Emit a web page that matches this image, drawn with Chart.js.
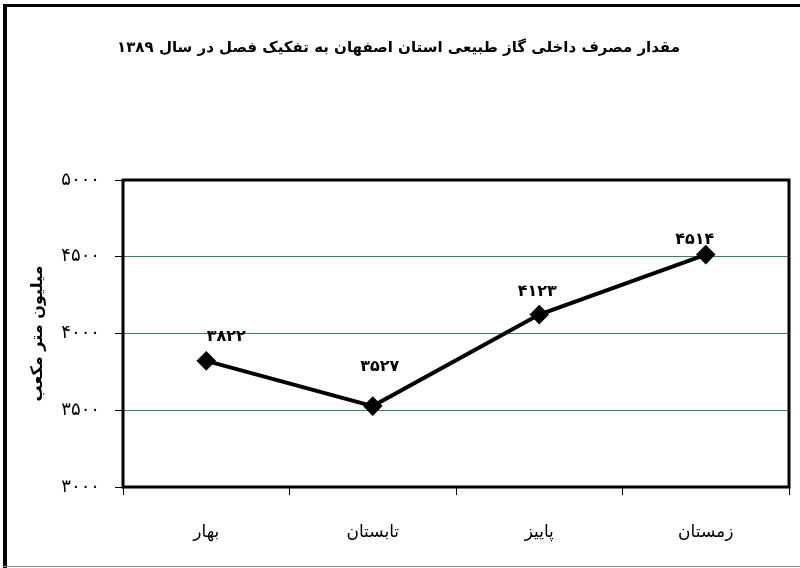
<!DOCTYPE html>
<html>
<head>
<meta charset="utf-8">
<script src="https://cdn.jsdelivr.net/npm/chart.js@4.4.0/dist/chart.umd.min.js"></script>
<style>
  html, body { margin: 0; padding: 0; background: #fff; }
</style>
</head>
<body>
<canvas id="chart" width="800" height="568"></canvas>
<script>
const seasons = ['بهار', 'تابستان', 'پاییز', 'زمستان'];
const consumption = [3822, 3527, 4123, 4514];
const yTicks = [3000, 3500, 4000, 4500, 5000];
const chartTitle = 'مقدار مصرف داخلی گاز طبیعی استان اصفهان به تفکیک فصل در سال ۱۳۸۹';
const yTitle = 'میلیون متر مکعب';
// label nudges relative to each point (dx, dy)
const labelNudge = [[20, -24], [7, -39], [-2, -23], [-11, -15]];

const FONT = "'DejaVu Sans', Tahoma, sans-serif";
const GRID_GREEN = '#2e8b57';

function fa(n) {
    return String(n).replace(/\d/g, d => '۰۱۲۳۴۵۶۷۸۹'[d]);
}

// white page + outer frame (left/top thick, bottom thin grey)
const pageFrame = {
    id: 'pageFrame',
    beforeDraw(chart) {
        const c = chart.ctx;
        c.save();
        c.fillStyle = '#fff';
        c.fillRect(0, 0, chart.width, chart.height);
        c.fillStyle = '#000';
        c.fillRect(3, 4, 4, chart.height - 4);
        c.fillRect(3, 4, chart.width - 3, 3);
        c.fillStyle = '#8a8a8a';
        c.fillRect(3, chart.height - 2, chart.width - 3, 1);
        c.restore();
    }
};

// thick black box round the plot area
const plotBox = {
    id: 'plotBox',
    beforeDatasetsDraw(chart) {
        const {left, top, right, bottom} = chart.chartArea;
        const c = chart.ctx;
        c.save();
        c.strokeStyle = '#000';
        c.lineWidth = 3;
        c.strokeRect(left, top, right - left, bottom - top);
        c.restore();
    }
};

const valueLabels = {
    id: 'valueLabels',
    afterDatasetsDraw(chart) {
        const c = chart.ctx;
        const meta = chart.getDatasetMeta(0);
        c.save();
        c.font = 'bold 16px ' + FONT;
        c.fillStyle = '#000';
        c.textAlign = 'center';
        c.textBaseline = 'middle';
        meta.data.forEach((pt, i) => {
            const [dx, dy] = labelNudge[i];
            c.fillText(fa(consumption[i]), pt.x + dx, pt.y + dy);
        });
        c.restore();
    }
};

new Chart(document.getElementById('chart'), {
    type: 'line',
    data: {
        labels: seasons,
        datasets: [{
            data: consumption,
            borderColor: '#000',
            borderWidth: 4,
            backgroundColor: '#000',
            pointStyle: 'rectRot',
            pointRadius: 7,
            pointBackgroundColor: '#000',
            pointBorderColor: '#000',
            tension: 0,
            fill: false,
        }]
    },
    options: {
        responsive: false,
        animation: false,
        layout: {
            padding: { left: 6, right: 9, top: 0, bottom: 0 }
        },
        plugins: {
            legend: { display: false },
            tooltip: { enabled: false },
            title: {
                display: true,
                text: chartTitle,
                color: '#000',
                font: { family: FONT, size: 15, weight: 'bold' },
                padding: { top: 39, bottom: 123 },
            },
        },
        scales: {
            x: {
                offset: true,
                border: { display: false },
                grid: {
                    offset: true,
                    drawOnChartArea: false,
                    drawTicks: true,
                    tickLength: 8,
                    tickColor: '#000',
                    lineWidth: 1,
                },
                ticks: {
                    color: '#000',
                    padding: 27,
                    font: { family: FONT, size: 17 },
                },
                afterFit(s) { s.height = 81; },
            },
            y: {
                min: 3000,
                max: 5000,
                border: { display: false },
                afterBuildTicks(s) {
                    s.ticks = yTicks.map(v => ({ value: v }));
                },
                grid: {
                    color: ctx => (ctx.tick && (ctx.tick.value === 3000 || ctx.tick.value === 5000)) ? 'rgba(0,0,0,0)' : GRID_GREEN,
                    lineWidth: 1,
                    drawTicks: true,
                    tickLength: 8,
                    tickColor: '#000',
                },
                ticks: {
                    color: '#000',
                    padding: 15,
                    font: { family: FONT, size: 18 },
                    callback: v => fa(v),
                },
                title: {
                    display: true,
                    text: yTitle,
                    color: '#000',
                    font: { family: FONT, size: 16, weight: 'bold' },
                    padding: { top: 22, bottom: 0 },
                },
                afterFit(s) { s.width = 117; },
            }
        }
    },
    plugins: [pageFrame, plotBox, valueLabels]
});
</script>
</body>
</html>
